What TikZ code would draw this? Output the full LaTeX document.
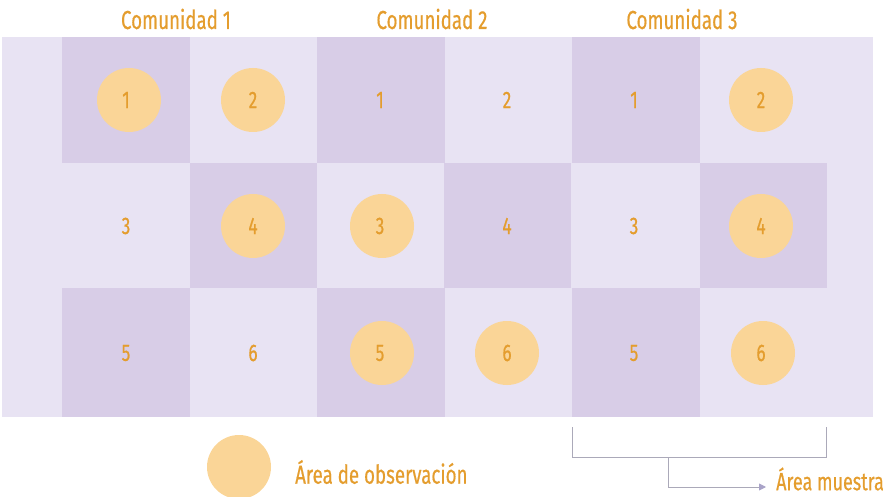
\documentclass[tikz,border=0pt]{standalone}
\usepackage{fontspec}
\setmainfont[FakeStretch=0.72,FakeBold=0.5]{Fira Sans}
\usetikzlibrary{arrows.meta}
\definecolor{bgc}{HTML}{E8E3F3}
\definecolor{darkc}{HTML}{D8CDE7}
\definecolor{circc}{HTML}{FAD597}
\definecolor{txtc}{HTML}{E49D2E}
\definecolor{linec}{HTML}{ABA9B9}
\definecolor{tipc}{HTML}{A9A3C8}
\tikzset{
  cellbox/.style={fill=darkc, draw=none},
  obs/.style={circle, fill=circc, minimum size=64pt, inner sep=0pt},
  num/.style={text=txtc, font=\fontsize{24}{26}\selectfont, inner sep=0pt},
  title/.style={text=txtc, font=\fontsize{26}{28}\selectfont, inner sep=0pt},
  bracket/.style={draw=linec, line width=0.9pt},
}
\begin{document}
\begin{tikzpicture}[x=1pt,y=-1pt]
\useasboundingbox (0,0) rectangle (892,497);
\fill[bgc] (2,37) rectangle (873,417);
% dark cells
\foreach \x in {62,317,572} {
  \fill[darkc] (\x,37) rectangle ++(128,126);
  \fill[darkc] (\x,288) rectangle ++(128,129);
}
\foreach \x in {190,444,700} {
  \fill[darkc] (\x,163) rectangle ++(127,125);
}
% circles
\node[obs] (c11) at (129,100) {};
\node[obs] (c12) at (253,100) {};
\node[obs] (c14) at (253,226) {};
\node[obs] (c23) at (382,226) {};
\node[obs] (c25) at (382,353) {};
\node[obs] (c26) at (507,353) {};
\node[obs] (c32) at (761,100) {};
\node[obs] (c34) at (761,226) {};
\node[obs] (c36) at (763,353) {};
% numbers
\foreach \c/\cx in {1/0,2/254,3/508} {
  \node[num] (n\c a) at (126+\cx,100) {1};
  \node[num] (n\c b) at (253+\cx,100) {2};
  \node[num] (n\c c) at (126+\cx,226) {3};
  \node[num] (n\c d) at (253+\cx,226) {4};
  \node[num] (n\c e) at (126+\cx,353) {5};
  \node[num] (n\c f) at (253+\cx,353) {6};
}
% titles
\node[title] (t1) at (176,19) {Comunidad 1};
\node[title] (t2) at (432,19) {Comunidad 2};
\node[title] (t3) at (682,19) {Comunidad 3};
% legend
\node[obs] (leg) at (239,467) {};
\node[title, anchor=west] (legt) at (295,472) {Área de observación};
% bracket
\coordinate (bl) at (572,427);
\coordinate (br) at (826,427);
\coordinate (bm) at (668,457);
\draw[bracket] (bl) |- (br |- bm) -- (br);
\coordinate (tip) at (766,487);
\node[title, anchor=west, font=\fontsize{25}{27}\selectfont] (mt) at (776,479) {Área muestra};
\draw[bracket, -{Triangle[length=7pt,width=7pt,fill=tipc,color=tipc]}] (bm) |- (tip);
\end{tikzpicture}
\end{document}
